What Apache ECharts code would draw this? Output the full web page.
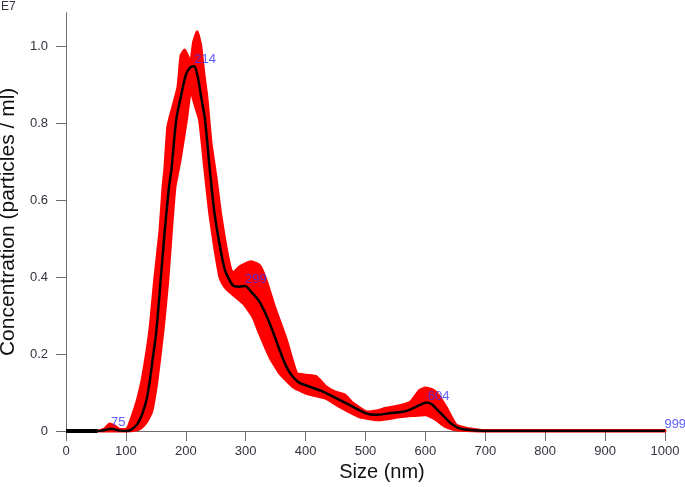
<!DOCTYPE html>
<html>
<head>
<meta charset="utf-8">
<script src="https://cdn.jsdelivr.net/npm/echarts@6.0.0/dist/echarts.min.js"></script>
<style>
html,body{margin:0;padding:0;background:#fff;}
#chart{width:685px;height:487px;}
</style>
</head>
<body>
<div id="chart"></div>
<script>
// ---- data ----
const xTicks = [0,100,200,300,400,500,600,700,800,900,1000];
const yTicks = [0,0.2,0.4,0.6,0.8,1.0];

// mean concentration curve (black), in units of 1E7 particles/ml
const meanSizes  = [0,53,60,68,75,82,90,100,107,112,120,128,135,140,145,151,158,165,172,176,184,192,200,207,214,220,226,232,240,248,257,265,273,280,290,299,310,323,340,368,387,407,425,440,468,501,518,540,562,573,590,601,610,620,634,645,657,670,690,700,1000];
const meanValues = [0,0,0.001,0.004,0.006,0.004,0.001,0,0.002,0.007,0.02,0.047,0.085,0.132,0.19,0.262,0.392,0.522,0.635,0.678,0.808,0.87,0.925,0.944,0.948,0.92,0.865,0.81,0.68,0.565,0.48,0.42,0.392,0.377,0.375,0.377,0.36,0.336,0.28,0.167,0.128,0.115,0.105,0.094,0.072,0.046,0.042,0.046,0.05,0.055,0.067,0.074,0.07,0.055,0.033,0.017,0.007,0.003,0.001,0,0];

// thick zero segment at the start
const zeroSizes  = [0,53];
const zeroValues = [0,0];

// error band (red): upper envelope
const upperSizes  = [55,65,72,80,88,100,104,112,120,128,140,148,157,162,165,170,178,187,192,198,203,208,213,219,225,230,235,242,251,258,267,275,279,290,309,323,334,348,368,385,401,418,434,448,465,479,501,518,534,557,575,590,600,610,618,634,651,668,690,700,1000];
const upperValues = [0,0.006,0.018,0.014,0.005,0.004,0.011,0.045,0.085,0.14,0.262,0.392,0.522,0.635,0.68,0.79,0.84,0.894,0.975,0.99,0.975,0.955,1.01,1.037,1.0,0.93,0.87,0.75,0.652,0.565,0.479,0.42,0.41,0.427,0.44,0.43,0.392,0.323,0.236,0.15,0.145,0.141,0.115,0.102,0.094,0.072,0.05,0.052,0.059,0.066,0.075,0.105,0.112,0.108,0.1,0.063,0.016,0.007,0.002,0.001,0.001];

// error band (red): lower envelope
const lowerSizes  = [55,100,115,125,135,143,152,162,170,176,182,190,201,208,215,223,232,240,248,257,265,273,296,312,323,340,357,379,401,434,457,490,523,557,579,601,618,634,651,690,1000];
const lowerValues = [0,0,0.002,0.008,0.025,0.05,0.132,0.262,0.392,0.522,0.635,0.70,0.808,0.886,0.85,0.808,0.678,0.565,0.479,0.40,0.375,0.362,0.332,0.297,0.254,0.193,0.15,0.115,0.098,0.085,0.063,0.037,0.029,0.037,0.04,0.042,0.029,0.011,0.003,0,0];

// peak labels
const peakSizes  = [75,214,299,604,999];
const peakValues = [0.006,0.948,0.377,0.074,0];

// ---- build ----
const zip = (xs, ys) => xs.map((x, i) => [x, ys[i]]);
const meanData  = zip(meanSizes, meanValues);
const zeroData  = zip(zeroSizes, zeroValues);
const upperData = zip(upperSizes, upperValues);
const lowerData = zip(lowerSizes, lowerValues);
const peakData  = zip(peakSizes, peakValues);

const FONT = "'Liberation Sans', Arial, sans-serif";
const AXIS_COLOR = '#6e6e6e';
const LABEL_COLOR = '#333340';

const chart = echarts.init(document.getElementById('chart'), null, {renderer: 'canvas'});
chart.setOption({
  animation: false,
  backgroundColor: '#ffffff',
  grid: {left: 66, right: 20, top: 12.7, bottom: 56, containLabel: false, outerBoundsMode: 'none'},
  graphic: [{
    type: 'text', left: 1, top: 1,
    style: {text: 'E7', font: '12px ' + FONT, fill: LABEL_COLOR}
  }],
  xAxis: {
    type: 'value', min: 0, max: 1000, interval: 100,
    name: 'Size (nm)', nameLocation: 'middle', nameGap: 31,
    nameTextStyle: {fontSize: 20, fontFamily: FONT, color: '#111', padding: [0, 0, 0, 33]},
    axisLine: {show: true, lineStyle: {color: AXIS_COLOR, width: 1}},
    axisTick: {show: true, length: 10, lineStyle: {color: AXIS_COLOR}},
    axisLabel: {fontSize: 13, fontFamily: FONT, color: LABEL_COLOR, margin: 14,
      formatter: v => String(v)},
    splitLine: {show: false}
  },
  yAxis: {
    type: 'value', min: 0, max: 1.087,
    name: 'Concentration (particles / ml)', nameLocation: 'middle', nameGap: 45,
    nameTextStyle: {fontSize: 21, fontFamily: FONT, color: '#111'},
    axisLine: {show: true, lineStyle: {color: AXIS_COLOR, width: 1}},
    axisTick: {show: true, length: 10, customValues: yTicks, lineStyle: {color: AXIS_COLOR}},
    axisLabel: {
      fontSize: 13, fontFamily: FONT, color: LABEL_COLOR, margin: 18,
      customValues: yTicks,
      formatter: v => (v === 0 ? '0' : v.toFixed(1))
    },
    splitLine: {show: false}
  },
  series: [
    {
      type: 'custom',
      name: 'band',
      coordinateSystem: 'cartesian2d',
      data: [[0, 0]],
      silent: true,
      z: 1,
      renderItem: function (params, api) {
        const pts = upperData.map(p => api.coord(p))
          .concat(lowerData.slice().reverse().map(p => api.coord(p)));
        return {
          type: 'polygon',
          shape: {points: pts, smooth: 0.15},
          style: {fill: '#ff0000', stroke: '#ff0000', lineWidth: 3, lineJoin: 'round'}
        };
      }
    },
    {
      type: 'line', name: 'mean', data: meanData,
      showSymbol: false, smooth: 0.3, z: 3,
      lineStyle: {color: '#000000', width: 2.5}
    },
    {
      type: 'line', name: 'zero', data: zeroData,
      showSymbol: false, z: 3,
      lineStyle: {color: '#000000', width: 4}
    },
    {
      type: 'scatter', name: 'peaks', data: peakData,
      symbolSize: 0, z: 5,
      label: {
        show: true, position: [0, 0], align: 'left', verticalAlign: 'bottom',
        fontSize: 13, fontFamily: FONT, color: '#3333ff',
        formatter: p => String(p.value[0])
      }
    }
  ]
});
</script>
</body>
</html>
